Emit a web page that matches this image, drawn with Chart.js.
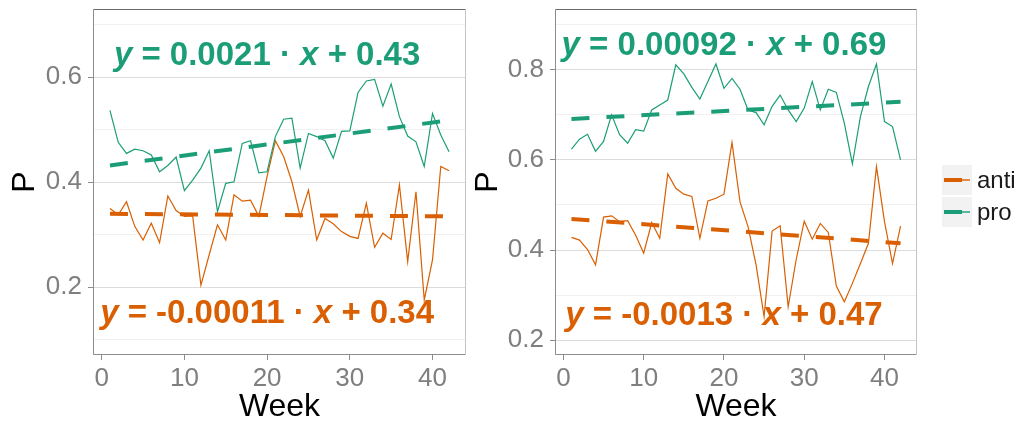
<!DOCTYPE html>
<html>
<head>
<meta charset="utf-8">
<script src="https://cdn.jsdelivr.net/npm/chart.js@4/dist/chart.umd.min.js"></script>
<style>
  body { margin: 0; background: #fff; width: 1023px; height: 423px; overflow: hidden; position: relative; }
  canvas { position: absolute; top: 0; }
</style>
</head>
<body>
<canvas id="left_chart" width="470" height="423" style="left:0px"></canvas>
<canvas id="right_chart" width="553" height="423" style="left:470px"></canvas>
<script>
// weeks 1..42 for the weekly lines
var weeks = [1, 2, 3, 4, 5, 6, 7, 8, 9, 10, 11, 12, 13, 14, 15, 16, 17, 18, 19, 20, 21,
  22, 23, 24, 25, 26, 27, 28, 29, 30, 31, 32, 33, 34, 35, 36, 37, 38, 39, 40, 41, 42]
var xTicks = [0, 10, 20, 30, 40]

var leftAnti = [0.350, 0.338, 0.363, 0.316, 0.290, 0.322, 0.285, 0.374, 0.346, 0.335, 0.336, 0.204,
  0.262, 0.319, 0.290, 0.376, 0.364, 0.366, 0.335, 0.411, 0.479, 0.449, 0.401, 0.335, 0.385, 0.290,
  0.331, 0.321, 0.306, 0.297, 0.293, 0.360, 0.276, 0.303, 0.291, 0.395, 0.249, 0.382, 0.176, 0.252,
  0.430, 0.422]
var leftPro = [0.537, 0.476, 0.455, 0.463, 0.460, 0.452, 0.420, 0.432, 0.448, 0.384, 0.404, 0.427,
  0.460, 0.344, 0.398, 0.401, 0.474, 0.479, 0.418, 0.420, 0.487, 0.520, 0.522, 0.427, 0.493, 0.487,
  0.479, 0.446, 0.497, 0.498, 0.571, 0.593, 0.596, 0.545, 0.587, 0.525, 0.488, 0.477, 0.430, 0.531,
  0.490, 0.458]

var rightAnti = [0.428, 0.422, 0.401, 0.367, 0.473, 0.476, 0.463, 0.465, 0.433, 0.393, 0.461, 0.426,
  0.569, 0.537, 0.524, 0.519, 0.426, 0.509, 0.515, 0.524, 0.639, 0.507, 0.452, 0.367, 0.252, 0.442,
  0.454, 0.274, 0.379, 0.464, 0.424, 0.459, 0.439, 0.320, 0.285, 0.326, 0.370, 0.415, 0.585, 0.463,
  0.370, 0.453]
var rightPro = [0.624, 0.646, 0.657, 0.619, 0.641, 0.700, 0.656, 0.637, 0.667, 0.664, 0.711, 0.722,
  0.733, 0.811, 0.791, 0.761, 0.735, 0.774, 0.813, 0.759, 0.781, 0.757, 0.711, 0.705, 0.678, 0.719,
  0.744, 0.711, 0.685, 0.715, 0.774, 0.711, 0.757, 0.750, 0.681, 0.591, 0.696, 0.763, 0.813, 0.685,
  0.674, 0.600]

// fitted lines, end points at first and last week
var fitWeeks = [1, 42]
var leftAntiFit = [0.340, 0.335]
var leftProFit = [0.432, 0.518]
var rightAntiFit = [0.469, 0.415]
var rightProFit = [0.691, 0.729]

// equation text: slope, intercept
var leftAntiEq = ["-0.00011", "0.34"]
var leftProEq = ["0.0021", "0.43"]
var rightAntiEq = ["-0.0013", "0.47"]
var rightProEq = ["0.00092", "0.69"]

var seriesNames = ["anti", "pro"]

const antiColor = "#d95f02"
const proColor = "#1b9e77"
const fontName = "'Liberation Sans', Arial, sans-serif"

const isMajor = (v) => Math.round(v * 10) % 2 === 0

const toPoints = (xs, ys) => xs.map((x, i) => ({x: x, y: ys[i]}))

// equations written on the panel, y and x in italic
const equationPlugin = {
  id: "equations",
  afterDatasetsDraw(chart, args, opts) {
    const ctx = chart.ctx
    const xs = chart.scales.x
    const ys = chart.scales.y
    opts.items.forEach(eq => {
      const parts = [
        {t: "y", it: true}, {t: " = "}, {t: eq.text[0]}, {t: " \u00b7 "},
        {t: "x", it: true}, {t: " + "}, {t: eq.text[1]}
      ]
      ctx.save()
      let total = 0
      parts.forEach(p => {
        ctx.font = (p.it ? "italic " : "") + "bold " + opts.size + "px " + fontName
        p.w = ctx.measureText(p.t).width
        total += p.w
      })
      let px = xs.getPixelForValue(eq.x) - total / 2
      const py = ys.getPixelForValue(eq.y)
      ctx.fillStyle = eq.color
      ctx.textBaseline = "alphabetic"
      ctx.textAlign = "left"
      parts.forEach(p => {
        ctx.font = (p.it ? "italic " : "") + "bold " + opts.size + "px " + fontName
        ctx.fillText(p.t, px, py)
        px += p.w
      })
      ctx.restore()
    })
  }
}

// panel frame
const framePlugin = {
  id: "frame",
  afterDraw(chart) {
    const ctx = chart.ctx
    const a = chart.chartArea
    ctx.save()
    ctx.lineWidth = 1
    const side = (x1, y1, x2, y2, c) => {
      ctx.strokeStyle = c
      ctx.beginPath()
      ctx.moveTo(x1, y1)
      ctx.lineTo(x2, y2)
      ctx.stroke()
    }
    const l = Math.round(a.left) + 0.5, r = Math.round(a.right) - 0.5
    const t = Math.round(a.top) + 0.5, b = Math.round(a.bottom) - 0.5
    side(l, t, l, b, "#8c8c8c")
    side(l, b, r, b, "#8c8c8c")
    side(r, t, r, b, "#c4c4c4")
    side(l, t, r, t, "#6b6b6b")
    ctx.restore()
  }
}

// legend boxes to the right of the second panel
const legendPlugin = {
  id: "sideLegend",
  afterDraw(chart, args, opts) {
    if (!opts.show) return
    const ctx = chart.ctx
    ctx.save()
    opts.items.forEach((it, i) => {
      const top = opts.top + i * 32
      ctx.fillStyle = "#f2f2f2"
      ctx.fillRect(opts.left, top, 30, 30)
      const mid = top + 15
      ctx.fillStyle = it.color
      ctx.fillRect(opts.left + 2, mid - 0.7, 26, 1.4)
      ctx.fillRect(opts.left + 2, mid - 2, 18, 4)
      ctx.fillStyle = "#1a1a1a"
      ctx.font = "24px " + fontName
      ctx.textBaseline = "middle"
      ctx.fillText(it.name, opts.left + 35, mid + 1)
    })
    ctx.restore()
  }
}

const makePanel = (canvasId, anti, pro, antiFit, proFit, yMin, yMax, eqs, layout) => {
  const canvas = document.getElementById(canvasId)
  return new Chart(canvas, {
    type: "line",
    data: {
      datasets: [
        {label: seriesNames[0], data: toPoints(weeks, anti), borderColor: antiColor, borderWidth: 1.2, order: 4},
        {label: seriesNames[1], data: toPoints(weeks, pro), borderColor: proColor, borderWidth: 1.2, order: 3},
        {label: "antiFit", data: toPoints(fitWeeks, antiFit), borderColor: antiColor, borderWidth: 4,
          borderDash: [18, 17], borderCapStyle: "butt", order: 2},
        {label: "proFit", data: toPoints(fitWeeks, proFit), borderColor: proColor, borderWidth: 4,
          borderDash: [18, 17], borderCapStyle: "butt", order: 1}
      ]
    },
    options: {
      responsive: false,
      animation: false,
      devicePixelRatio: 1,
      elements: {point: {radius: 0}, line: {tension: 0, fill: false}},
      layout: {padding: {top: 9, right: layout.right, bottom: 0, left: 0}},
      scales: {
        x: {
          type: "linear",
          min: -1.05,
          max: 44.05,
          afterBuildTicks: (axis) => { axis.ticks = xTicks.map(v => ({value: v})) },
          afterFit: (axis) => { axis.height = 68; axis.paddingLeft = 0; axis.paddingRight = 0 },
          ticks: {color: "#7f7f7f", font: {family: fontName, size: 26}, padding: 3, maxRotation: 0},
          grid: {drawOnChartArea: false, drawTicks: true, tickLength: 5, tickColor: "#8c8c8c"},
          border: {display: false},
          title: {display: true, text: "Week", color: "#000", font: {family: fontName, size: 32, lineHeight: 1},
            padding: {top: 0, bottom: 0}}
        },
        y: {
          min: yMin,
          max: yMax,
          afterFit: (axis) => { axis.width = layout.yWidth; axis.paddingTop = 0; axis.paddingBottom = 0 },
          ticks: {
            stepSize: 0.1,
            includeBounds: false,
            autoSkip: false,
            color: "#7f7f7f",
            font: {family: fontName, size: 26},
            padding: 6,
            callback: (v) => isMajor(v) ? v.toFixed(1) : ""
          },
          grid: {
            color: (c) => isMajor(c.tick.value) ? "#dcdcdc" : "#f1f1f1",
            lineWidth: 1,
            tickLength: 5,
            tickColor: (c) => isMajor(c.tick.value) ? "#8c8c8c" : "rgba(0,0,0,0)"
          },
          border: {display: false},
          title: {display: true, text: "P", color: "#000", font: {family: fontName, size: 32, lineHeight: 1},
            padding: {top: layout.titlePad, bottom: 0}}
        }
      },
      plugins: {
        legend: {display: false},
        tooltip: {enabled: false},
        equations: {size: 33, items: eqs},
        sideLegend: {show: layout.legend, left: 472, top: 165,
          items: [{name: seriesNames[0], color: antiColor}, {name: seriesNames[1], color: proColor}]}
      }
    },
    plugins: [equationPlugin, framePlugin, legendPlugin]
  })
}

makePanel("left_chart", leftAnti, leftPro, leftAntiFit, leftProFit, 0.071, 0.730, [
  {text: leftProEq, x: 20, y: 0.623, color: proColor},
  {text: leftAntiEq, x: 20, y: 0.132, color: antiColor}
], {right: 4, yWidth: 93, titlePad: 9, legend: false})

makePanel("right_chart", rightAnti, rightPro, rightAntiFit, rightProFit, 0.167, 0.935, [
  {text: rightProEq, x: 20, y: 0.833, color: proColor},
  {text: rightAntiEq, x: 20, y: 0.233, color: antiColor}
], {right: 106, yWidth: 85, titlePad: 2, legend: true})
</script>
</body>
</html>
